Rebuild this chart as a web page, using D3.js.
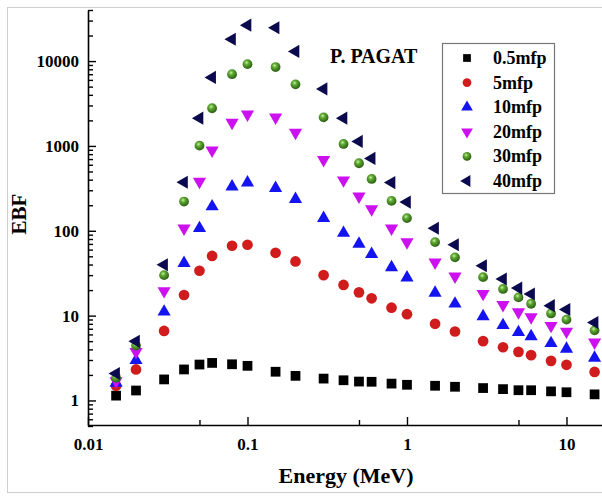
<!DOCTYPE html>
<html>
<head>
<meta charset="utf-8">
<script src="https://cdn.jsdelivr.net/npm/d3@7"></script>
<style>
  body { margin: 0; background: #fff; }
  text { font-family: "Liberation Serif", "Times New Roman", serif; font-weight: bold; }
</style>
</head>
<body>
<div id="Chart"></div>
<script>
// photon energies (MeV)
var energy = [0.015, 0.02, 0.03, 0.04, 0.05, 0.06, 0.08, 0.1, 0.15, 0.2, 0.3, 0.4, 0.5, 0.6, 0.8, 1, 1.5, 2, 3, 4, 5, 6, 8, 10, 15]
// EBF values per penetration depth
var mfp05 = [1.14, 1.31, 1.77, 2.32, 2.65, 2.77, 2.67, 2.56, 2.18, 1.95, 1.81, 1.73, 1.67, 1.66, 1.58, 1.53, 1.49, 1.45, 1.40, 1.36, 1.32, 1.32, 1.28, 1.25, 1.18]
var mfp5 = [1.49, 2.32, 6.6, 17.5, 33.8, 50.5, 66.6, 68.4, 55, 43.5, 30, 23, 18.8, 16.0, 12.4, 10.4, 8.0, 6.5, 5.0, 4.24, 3.74, 3.42, 2.93, 2.63, 2.17]
var mfp10 = [1.61, 2.98, 11.1, 41.5, 107, 193, 331, 369, 318, 236, 141, 94, 70, 53, 37, 28, 18.5, 13.8, 9.8, 7.7, 6.37, 5.7, 4.72, 4.06, 3.18]
var mfp20 = [1.69, 3.74, 19.5, 107, 380, 886, 1884, 2359, 2172, 1438, 685, 394, 254, 180, 107, 73.5, 42.4, 29, 18.1, 13.4, 11.0, 9.6, 7.6, 6.5, 4.85]
var mfp30 = [1.85, 4.43, 30, 221, 1007, 2780, 7000, 9200, 8500, 5315, 2172, 1055, 625, 408, 225, 141, 73.5, 48.6, 28.4, 20.6, 16.4, 13.8, 10.6, 8.96, 6.7]
var mfp40 = [2.08, 4.98, 39.8, 373, 2122, 6425, 18100, 26500, 24700, 13000, 4700, 2122, 1130, 712, 370, 218, 107, 68.4, 38.7, 27, 21.1, 18.0, 13.1, 11.8, 8.3]
var seriesNames = ["0.5mfp", "5mfp", "10mfp", "20mfp", "30mfp", "40mfp"]
var yTicks = [1, 10, 100, 1000, 10000]
var xTicks = [0.01, 0.1, 1, 10]
var title = "P. PAGAT"

var Width = 602, Height = 497
var svg = d3.select("#Chart").append("svg")
    .attr("width", Width)
    .attr("height", Height)

// picture frame
svg.append("rect")
    .attr("x", 7.5).attr("y", 7.5)
    .attr("width", 620).attr("height", 485)
    .attr("fill", "none").attr("stroke", "#cfcfcf")

var X = d3.scaleLog().domain([0.01, 20]).range([88, 614.5])
var Y = d3.scaleLog().domain([0.5, 40000]).range([426, 10])

var defs = svg.append("defs")
var grad = defs.append("radialGradient").attr("id", "ball")
    .attr("cx", "40%").attr("cy", "35%").attr("r", "65%")
grad.append("stop").attr("offset", "0%").attr("stop-color", "#c8f0a0")
grad.append("stop").attr("offset", "35%").attr("stop-color", "#5ea832")
grad.append("stop").attr("offset", "100%").attr("stop-color", "#2a5e12")

// minor ticks
var yMinor = []
for (var e = -1; e <= 4; e++) for (var m = 2; m <= 9; m++) {
  var v = m * Math.pow(10, e)
  if (v >= 0.5 && v <= 40000) yMinor.push(v)
}
var xMinor = [0.05, 0.5, 5]

var yAxis = svg.append("g")
    .attr("transform", "translate(88,0)")
    .call(d3.axisLeft(Y).tickValues(yTicks).tickFormat(d3.format("d"))
      .tickSizeInner(-8).tickSizeOuter(0).tickPadding(9))
svg.append("g")
    .attr("transform", "translate(88,0)")
    .call(d3.axisLeft(Y).tickValues(yMinor).tickFormat("")
      .tickSizeInner(-5).tickSizeOuter(0))
    .select(".domain").remove()

var xAxis = svg.append("g")
    .attr("transform", "translate(0,425)")
    .call(d3.axisBottom(X).tickValues(xTicks).tickFormat(d => d)
      .tickSizeInner(-8).tickSizeOuter(0).tickPadding(13))
svg.append("g")
    .attr("transform", "translate(0,425)")
    .call(d3.axisBottom(X).tickValues(xMinor).tickFormat("")
      .tickSizeInner(-5).tickSizeOuter(0))
    .select(".domain").remove()

svg.selectAll(".domain").attr("stroke-width", 1.6)
svg.selectAll(".tick line").attr("stroke-width", 1.4)
svg.selectAll(".tick text")
    .style("font-family", "'Liberation Serif', serif")
    .style("font-weight", "bold")
    .style("font-size", "17px")

// axis titles
svg.append("text")
    .attr("transform", "translate(26,214)rotate(-90)")
    .attr("text-anchor", "middle")
    .style("font-size", "21px")
    .text("EBF")
svg.append("text")
    .attr("x", 346).attr("y", 483)
    .attr("text-anchor", "middle")
    .style("font-size", "22px")
    .text("Energy (MeV)")

svg.append("text")
    .attr("x", 330).attr("y", 63)
    .style("font-size", "20px")
    .text(title)

var styles = [
  {data: mfp05, type: d3.symbolSquare, size: 95, rot: 0, fill: "#000"},
  {data: mfp5, type: d3.symbolCircle, size: 90, rot: 0, fill: "#d01c1c"},
  {data: mfp10, type: d3.symbolTriangle, size: 75, rot: 0, fill: "#1414f0"},
  {data: mfp20, type: d3.symbolTriangle, size: 75, rot: 180, fill: "#cc10f0"},
  {data: mfp30, type: d3.symbolCircle, size: 75, rot: 0, fill: "url(#ball)"},
  {data: mfp40, type: d3.symbolTriangle, size: 75, rot: -90, fill: "#0c0a4e"}
]

var plot = svg.append("g")
styles.forEach(function(s) {
  plot.append("g").selectAll("path")
    .data(energy.map((d, i) => [d, s.data[i]]))
    .enter().append("path")
      .attr("d", d3.symbol().type(s.type).size(s.size))
      .attr("transform", d => `translate(${X(d[0])},${Y(d[1])})rotate(${s.rot})`)
      .attr("fill", s.fill)
})

// legend
var legend = svg.append("g")
legend.append("rect")
    .attr("x", 442.5).attr("y", 43.5)
    .attr("width", 112).attr("height", 150)
    .attr("fill", "#fff").attr("stroke", "#777").attr("stroke-width", 1.2)
styles.forEach(function(s, i) {
  var yy = 58 + i * 24.6
  legend.append("path")
    .attr("d", d3.symbol().type(s.type).size(60))
    .attr("transform", `translate(467,${yy})rotate(${s.rot})`)
    .attr("fill", s.fill)
  legend.append("text")
    .attr("x", 493).attr("y", yy + 6)
    .style("font-size", "18px")
    .text(seriesNames[i])
})
</script>
</body>
</html>
